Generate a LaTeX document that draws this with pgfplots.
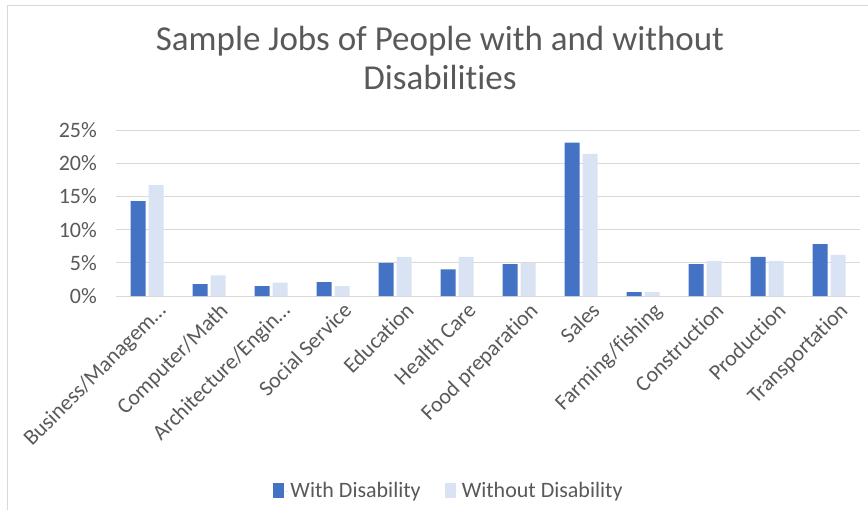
\documentclass[border=0pt]{standalone}
\usepackage{fontspec}
\setmainfont[Ligatures={NoCommon,NoDiscretionary,NoRare}]{Carlito}
\usepackage{pgfplots}
\pgfplotsset{compat=1.18}
\definecolor{withc}{HTML}{4472C4}
\definecolor{withoutc}{HTML}{DAE3F3}
\definecolor{txt}{HTML}{595959}
\definecolor{gridc}{HTML}{D9D9D9}
\begin{document}
\begin{tikzpicture}
\useasboundingbox (0,0) rectangle (868pt,-510pt);
\draw[gridc, line width=1pt] (7pt,-510pt) -- (7pt,-6pt) -- (868pt,-6pt);
\node[txt, font=\fontsize{35}{39}\selectfont, align=center] at (440pt,-58pt) {Sample Jobs of People with and without\\Disabilities};
\begin{axis}[
  at={(116pt,-296pt)}, anchor=south west,
  scale only axis, width=744pt, height=166pt,
  ybar=3pt, bar width=15pt,
  xmin=-0.5, xmax=11.5, ymin=0, ymax=25,
  axis line style={draw=none},
  xtick=data,
  xticklabels={Business/Managem…, Computer/Math, Architecture/Engin…, Social Service, Education, Health Care, Food preparation, Sales, Farming/fishing, Construction, Production, Transportation},
  xticklabel style={rotate=45, anchor=north east, inner sep=0pt, yshift=-10pt, xshift=3pt, font=\fontsize{22}{26}\selectfont, text=txt},
  ytick={0,5,10,15,20,25},
  yticklabels={0\%,5\%,10\%,15\%,20\%,25\%},
  yticklabel style={font=\fontsize{22}{26}\selectfont, text=txt, inner sep=0pt, xshift=-19pt},
  major tick length=0pt,
  ymajorgrids, grid style={gridc, line width=1pt},
  legend style={at={(0.4476,-1.175)}, anchor=center, draw=none, legend columns=2, font=\fontsize{22}{26}\selectfont, text=txt, /tikz/every even column/.append style={column sep=22pt}},
  legend image code/.code={\fill[#1] (0pt,-7pt) rectangle (11pt,8pt); \path (0pt,0pt) -- (15pt,0pt);},
]
\addplot[fill=withc, draw=none] coordinates {(0,14.3) (1,1.8) (2,1.5) (3,2.1) (4,5.0) (5,4.0) (6,4.8) (7,23.1) (8,0.6) (9,4.8) (10,5.9) (11,7.8)};
\addplot[fill=withoutc, draw=none] coordinates {(0,16.7) (1,3.1) (2,2.0) (3,1.5) (4,5.9) (5,5.9) (6,5.0) (7,21.4) (8,0.6) (9,5.3) (10,5.3) (11,6.2)};
\legend{With Disability, Without Disability}
\end{axis}
\end{tikzpicture}
\end{document}
